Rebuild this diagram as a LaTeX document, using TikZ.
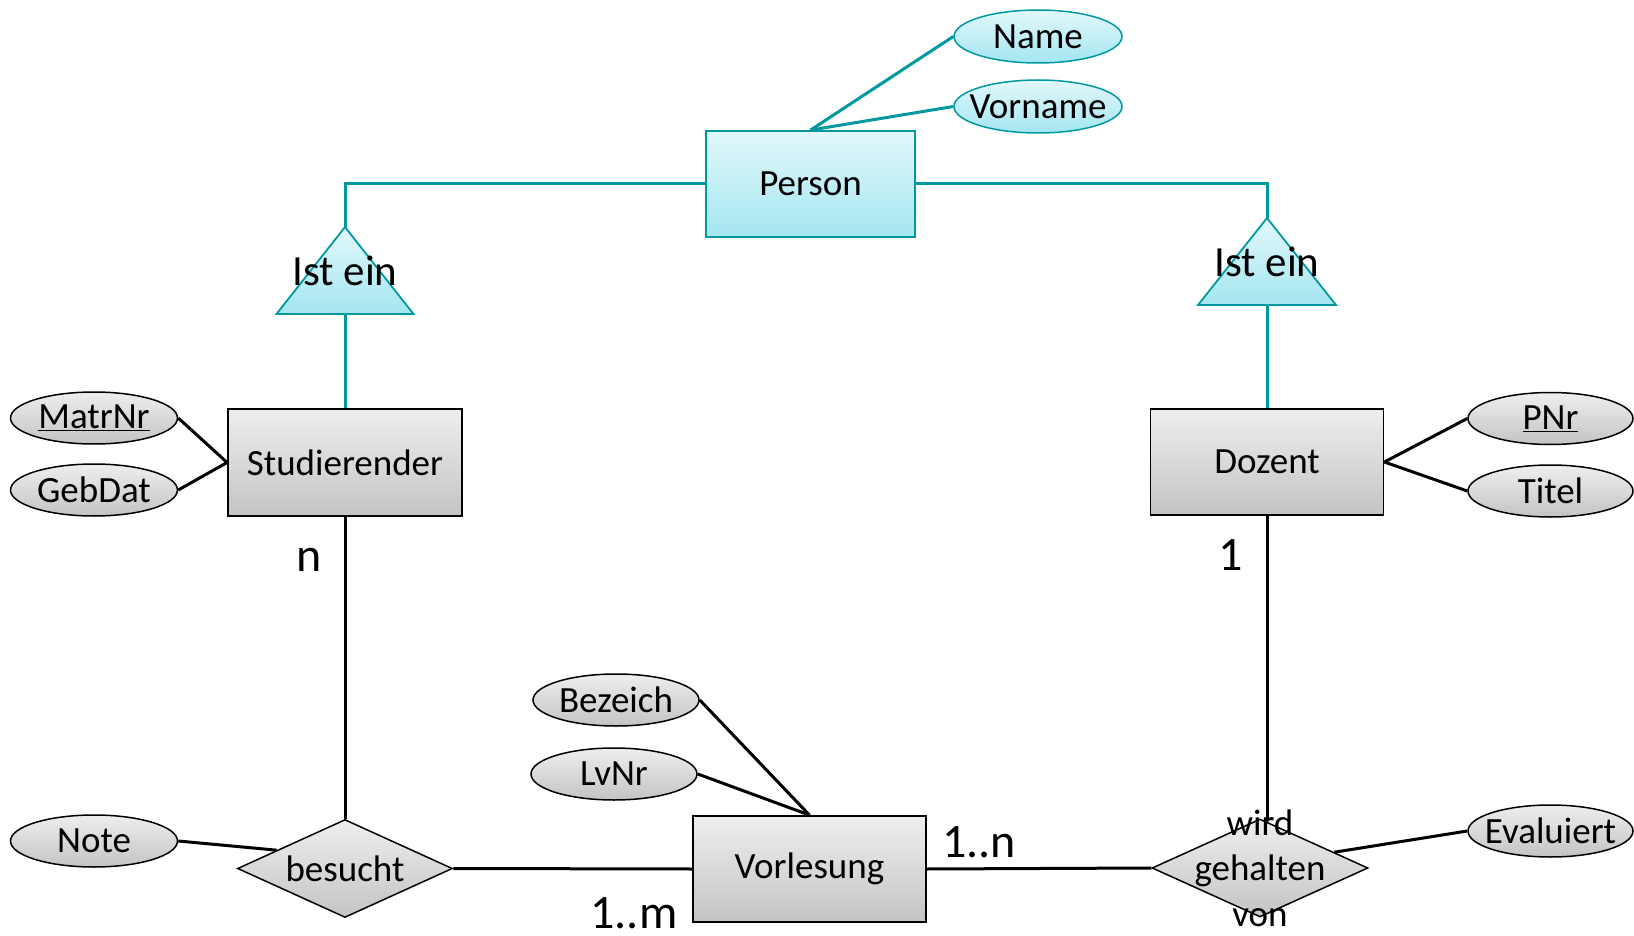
\documentclass[tikz,border=0pt]{standalone}
\usepackage{fontspec}
\setmainfont{Carlito}
\usetikzlibrary{shapes.geometric}
\definecolor{tealline}{RGB}{0,153,160}
\definecolor{teallight}{RGB}{226,248,251}
\definecolor{tealdark}{RGB}{164,230,240}
\definecolor{graylight}{RGB}{238,238,238}
\definecolor{graydark}{RGB}{196,196,196}
% attribute texts may overflow their ellipse, so they take no width
\newcommand{\attrtext}[1]{\makebox[0pt][c]{#1}}
\begin{document}
\begin{tikzpicture}[x=1pt,y=-1pt,
  txt/.style={font=\fontsize{37}{45.5}\selectfont},
  bigtxt/.style={font=\fontsize{43}{50}\selectfont},
  card/.style={font=\fontsize{48}{56}\selectfont, inner sep=0pt},
  entity/.style={rectangle, draw=black, line width=1.8pt, top color=graylight, bottom color=graydark,
    minimum width=233pt, minimum height=106pt, inner sep=0pt, txt},
  superentity/.style={entity, draw=tealline, top color=teallight, bottom color=tealdark},
  attr/.style={ellipse, draw=black, line width=1.5pt, top color=graylight, bottom color=graydark,
    minimum width=166pt, minimum height=52pt, inner sep=0pt, txt},
  tattr/.style={attr, draw=tealline, top color=teallight, bottom color=tealdark},
  rel/.style={diamond, draw=black, line width=1.5pt, top color=graylight, bottom color=graydark,
    minimum width=215pt, minimum height=98pt, inner sep=0pt},
  isa/.style={draw=tealline, line width=1.8pt, top color=teallight, bottom color=tealdark},
  conn/.style={draw=black, line width=3pt},
  tconn/.style={draw=tealline, line width=3pt}]
\useasboundingbox (0,0) rectangle (1634,936);

% supertype and its attributes
\node[superentity, minimum width=209pt] (person) at (810.5,184) {Person};
\node[tattr, minimum width=168pt, minimum height=53pt] (name) at (1038,36.5) {\attrtext{Name}};
\node[tattr, minimum width=168pt, minimum height=53pt] (vorname) at (1038,106.5) {\attrtext{Vorname}};

% generalisation triangles
\coordinate (ltop) at (345,227);
\coordinate (lbase) at (345,314);
\path[isa] (ltop) -- (276.5,314) -- (413.5,314) -- cycle;
\node[bigtxt, inner sep=0pt] (lisa) at (345,271) {Ist ein};

\coordinate (rtop) at (1267,218);
\coordinate (rbase) at (1267,305);
\path[isa] (rtop) -- (1198,305) -- (1336,305) -- cycle;
\node[bigtxt, inner sep=0pt] (risa) at (1267,262) {Ist ein};

% entities
\node[entity, minimum width=234pt, minimum height=107pt] (stud) at (345,462.5) {Studierender};
\node[entity] (doz) at (1267,462) {Dozent};
\node[entity] (vorl) at (809.5,869) {Vorlesung};

% attributes
\node[attr, minimum width=167pt] (matr) at (94,418) {\attrtext{\underline{MatrNr}}};
\node[attr, minimum width=167pt] (geb) at (94,490) {\attrtext{GebDat}};
\node[attr, minimum width=165pt] (pnr) at (1550.5,418.5) {\attrtext{\underline{PNr}}};
\node[attr, minimum width=165pt] (titel) at (1550.5,491) {\attrtext{Titel}};
\node[attr, minimum width=167pt] (note) at (94,841) {\attrtext{Note}};
\node[attr] (bez) at (616,700) {\attrtext{Bezeich}};
\node[attr] (lvnr) at (614,774) {\attrtext{LvNr}};
\node[attr, minimum width=165pt] (eval) at (1550.5,831) {\attrtext{Evaluiert}};

% relationships
\node[rel, label={[txt]center:besucht}] (bes) at (345,868.5) {};
\node[rel, minimum width=216pt, label={[txt, align=center]center:wird\\gehalten\\von}] (wgv) at (1260,868) {};

% generalisation connectors
\draw[tconn] (person.west) -| (ltop);
\draw[tconn] (person.east) -| (rtop);
\draw[tconn] (lbase) -- (stud.north);
\draw[tconn] (rbase) -- (doz.north);
\draw[tconn] (person.north) -- (name.west);
\draw[tconn] (person.north) -- (vorname.west);

% attribute connectors
\draw[conn] (matr.east) -- (stud.west);
\draw[conn] (geb.east) -- (stud.west);
\draw[conn] (pnr.west) -- (doz.east);
\draw[conn] (titel.west) -- (doz.east);
\draw[conn] (bez.east) -- (vorl.north);
\draw[conn] (lvnr.east) -- (vorl.north);
\draw[conn] (note.east) -- (bes.165);
\draw[conn] (eval.west) -- (wgv.12);

% relationship connectors
\draw[conn] (stud.south) -- (bes.north);
\draw[conn] (bes.east) -- (vorl.west);
\draw[conn] (vorl.east) -- (wgv.west);
\draw[conn] (doz.south) -- (doz.south |- wgv.83);

% cardinalities
\node[card] (cn) at (309.5,560) {n};
\node[card] (c1) at (1231,555) {1};
\node[card] (c1m) at (634,913) {1..m};
\node[card] (c1n) at (979,842) {1..n};
\end{tikzpicture}
\end{document}
